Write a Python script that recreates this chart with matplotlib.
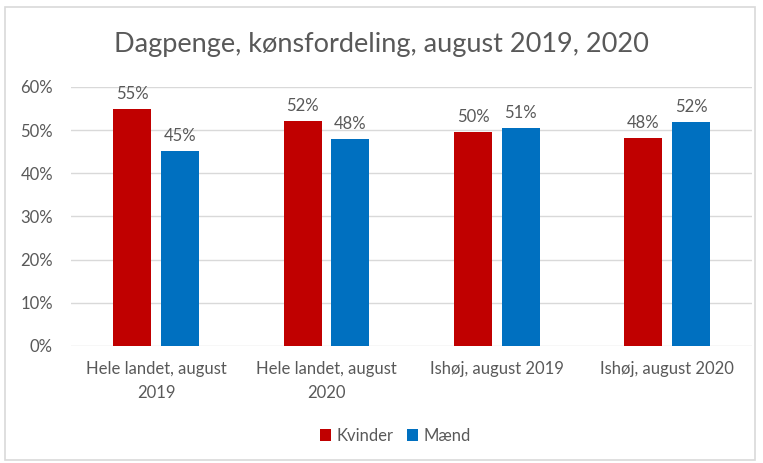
import matplotlib.pyplot as plt
from matplotlib import patches
import numpy as np

plt.rcParams['font.family'] = ['Lato', 'DejaVu Sans']

categories = ['Hele landet, august\n2019', 'Hele landet, august\n2020',
              'Ishøj, august 2019', 'Ishøj, august 2020']
kvinder = [54.9, 52.1, 49.6, 48.2]
maend = [45.1, 47.9, 50.6, 51.8]
yticks = [0, 10, 20, 30, 40, 50, 60]

txt = '#595959'
red = '#C00000'
blue = '#0070C0'

fig = plt.figure(figsize=(7.63, 4.63), dpi=100)
ax = fig.add_axes([0.093, 0.2527, 0.893, 0.5594])

# chart border
fig.patches.append(patches.Rectangle((5 / 763, 3 / 463), 750 / 763, 453 / 463,
                                     transform=fig.transFigure, fill=False,
                                     edgecolor='#D9D9D9', linewidth=1.2))

x = np.arange(len(categories))
w = 0.222
off = 0.14
b1 = ax.bar(x - off, kvinder, w, color=red, label='Kvinder', zorder=3)
b2 = ax.bar(x + off, maend, w, color=blue, label='Mænd', zorder=3)

for bars, vals in [(b1, kvinder), (b2, maend)]:
    for b, v in zip(bars, vals):
        ax.text(b.get_x() + b.get_width() / 2, v + 1.6, f'{round(v)}%',
                ha='center', va='bottom', fontsize=12, color=txt)

ax.set_xlim(-0.5, 3.5)
ax.set_ylim(0, 60)
ax.set_yticks(yticks)
ax.set_yticklabels([f'{t}%' for t in yticks])
ax.set_xticks(x)
ax.set_xticklabels(categories, linespacing=1.6)
ax.tick_params(axis='both', length=0, labelsize=12, colors=txt)
ax.tick_params(axis='x', pad=11)
ax.tick_params(axis='y', pad=13)
ax.yaxis.grid(True, color='#D9D9D9', linewidth=1, zorder=0)
for s in ax.spines.values():
    s.set_visible(False)

fig.text(0.5, 0.903, 'Dagpenge, kønsfordeling, august 2019, 2020',
         ha='center', va='center', fontsize=19.5, color=txt)

fig.legend(handles=[b1, b2], loc='center', bbox_to_anchor=(0.518, 0.058),
           ncol=2, frameon=False, fontsize=12, handlelength=0.7,
           handleheight=0.7, handletextpad=0.3, columnspacing=0.8,
           labelcolor=txt)

fig.savefig('out.png', dpi=100)
